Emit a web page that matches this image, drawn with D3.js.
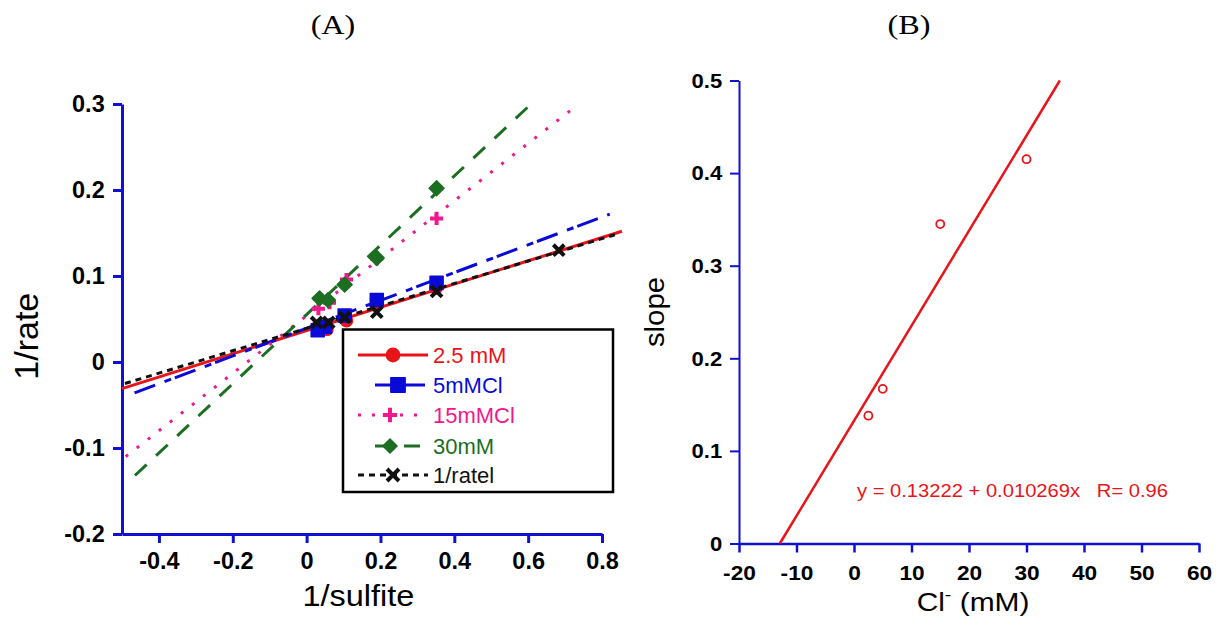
<!DOCTYPE html>
<html>
<head>
<meta charset="utf-8">
<script src="https://cdn.jsdelivr.net/npm/d3@7"></script>
<style>
body { margin: 0; background: #fff; }
svg { display: block; font-family: Arial, "Liberation Sans", sans-serif; }
</style>
</head>
<body>
<svg></svg>
<script>
// ---- panel A : 1/rate against 1/sulfite ----
let names = ["2.5 mM", "5mMCl", "15mMCl", "30mM", "1/ratel"]
let colors = ["#e8141a", "#0a0ad8", "#f0188c", "#1c6e22", "#111111"]

let x25 = [0.03, 0.055, 0.108, 0.19, 0.35]
let y25 = [0.041, 0.038, 0.048, 0.066, 0.086]
let x5 = [0.03, 0.05, 0.103, 0.19, 0.352]
let y5 = [0.037, 0.041, 0.054, 0.072, 0.092]
let x15 = [0.032, 0.062, 0.108, 0.19, 0.352]
let y15 = [0.062, 0.069, 0.096, 0.120, 0.167]
let x30 = [0.035, 0.058, 0.103, 0.19, 0.352]
let y30 = [0.074, 0.072, 0.090, 0.121, 0.202]
let xRate = [0.027, 0.06, 0.103, 0.19, 0.352, 0.683]
let yRate = [0.046, 0.046, 0.052, 0.058, 0.082, 0.130]

// fitted lines, end points
let fitX = [[-0.5, 0.854], [-0.466, 0.821], [-0.49, 0.737], [-0.465, 0.608], [-0.492, 0.835]]
let fitY = [[-0.031, 0.152], [-0.036, 0.172], [-0.110, 0.300], [-0.132, 0.300], [-0.025, 0.148]]

let aXTicks = [-0.4, -0.2, 0, 0.2, 0.4, 0.6, 0.8]
let aYTicks = [-0.2, -0.1, 0, 0.1, 0.2, 0.3]

// ---- panel B : slope against Cl- ----
let clConc = [2.5, 5, 15, 30]
let slopes = [0.138, 0.167, 0.345, 0.415]
let bFitX = [-12.9, 35.8]
let bFitY = [0, 0.5]
let bXTicks = [-20, -10, 0, 10, 20, 30, 40, 50, 60]
let bYTicks = [0, 0.1, 0.2, 0.3, 0.4, 0.5]

let width = 1227
let height = 622
let axisBlue = "#1010d0"

let svg = d3.select("svg").attr("width", width).attr("height", height)

let xA = d3.scaleLinear().domain([-0.5, 0.8]).range([122, 602])
let yA = d3.scaleLinear().domain([-0.2, 0.3]).range([534, 104])
let xB = d3.scaleLinear().domain([-20, 60]).range([739, 1199])
let yB = d3.scaleLinear().domain([0, 0.5]).range([543.5, 80.5])

// text in the picture is drawn a bit wider than normal
let label = (x, y, txt, size, opts = {}) => {
    let g = svg.append("g").attr("transform", "translate(" + x + "," + y + ")" + (opts.rotate ? " rotate(" + opts.rotate + ")" : ""))
    let t = g.append("text")
        .attr("text-anchor", opts.anchor || "middle")
        .attr("font-size", size)
        .attr("fill", opts.color || "#000")
        .attr("transform", "scale(" + (opts.sx || 1) + ",1)")
        .style("white-space", "pre")
    if (opts.family) t.attr("font-family", opts.family)
    t.text(txt)
    return t
}

let styleAxis = (g, sx) => {
    g.select(".domain").attr("stroke", axisBlue)
    g.selectAll(".tick line").attr("stroke", axisBlue)
    g.selectAll(".tick text").attr("fill", "#000").attr("font-weight", "bold")
        .attr("transform", "scale(" + sx + ",1)")
}

// custom marker shapes
let plusType = {draw: (ctx, size) => {
    let r = Math.sqrt(size) / 2
    ctx.moveTo(-r, 0); ctx.lineTo(r, 0); ctx.moveTo(0, -r); ctx.lineTo(0, r)
}}
let crossType = {draw: (ctx, size) => {
    let r = Math.sqrt(size) / 2
    ctx.moveTo(-r, -r); ctx.lineTo(r, r); ctx.moveTo(-r, r); ctx.lineTo(r, -r)
}}
let diamondType = {draw: (ctx, size) => {
    let r = Math.sqrt(size / 2)
    ctx.moveTo(0, -r); ctx.lineTo(r, 0); ctx.lineTo(0, r); ctx.lineTo(-r, 0); ctx.closePath()
}}

let markers = [
    {type: d3.symbolCircle, size: 115, filled: true},
    {type: d3.symbolSquare, size: 170, filled: true},
    {type: plusType, size: 170, filled: false},
    {type: diamondType, size: 110, filled: true},
    {type: crossType, size: 120, filled: false}
]
let dashes = [null, "22,10,7,4", "3,11", "16,13", "6,5"]
let widths = [3, 3, 3, 3, 3]

let drawMarker = (x, y, i, k = 1) => {
    let m = markers[i]
    let p = svg.append("path")
        .attr("d", d3.symbol().type(m.type).size(m.size * k)())
        .attr("transform", "translate(" + x + "," + y + ")")
    if (m.filled) p.attr("fill", colors[i]).attr("stroke", colors[i]).attr("stroke-width", 1.5).attr("stroke-linejoin", "round")
    else p.attr("fill", "none").attr("stroke", colors[i]).attr("stroke-width", 4)
}

let drawPanelA = () => {
    let xAxis = d3.axisBottom(xA).tickValues(aXTicks).tickFormat(d => String(d))
        .tickSize(9).tickSizeOuter(0).tickPadding(10)
    let yAxis = d3.axisLeft(yA).tickValues(aYTicks).tickFormat(d => String(d))
        .tickSize(9).tickSizeOuter(0).tickPadding(8)

    let gx = svg.append("g").attr("transform", "translate(0," + yA(-0.2) + ")").call(xAxis)
    gx.attr("font-size", 23).attr("font-family", null)
    gx.select(".domain").attr("stroke-width", 3)
    gx.selectAll(".tick line").attr("stroke-width", 3)
    styleAxis(gx, 1.02)

    let gy = svg.append("g").attr("transform", "translate(" + xA(-0.5) + ",0)").call(yAxis)
    gy.attr("font-size", 23).attr("font-family", null)
    gy.select(".domain").attr("stroke-width", 3)
    gy.selectAll(".tick line").attr("stroke-width", 3)
    styleAxis(gy, 1.02)

    // fitted lines
    let line = d3.line().x(d => xA(d[0])).y(d => yA(d[1]))
    fitX.forEach((fx, i) => {
        svg.append("path")
            .attr("d", line([[fx[0], fitY[i][0]], [fx[1], fitY[i][1]]]))
            .attr("fill", "none")
            .attr("stroke", colors[i])
            .attr("stroke-width", widths[i])
            .attr("stroke-dasharray", dashes[i])
    })

    // measured points
    let sets = [[x25, y25], [x5, y5], [x15, y15], [x30, y30], [xRate, yRate]]
    sets.forEach((s, i) => {
        s[0].forEach((v, j) => drawMarker(xA(v), yA(s[1][j]), i))
    })

    label(xA(0.14), 606, "1/sulfite", 29, {sx: 1.12})
    label(38, yA(0.03), "1/rate", 34, {rotate: -90})
    label(333, 34, "(A)", 28, {sx: 1.15, family: "'Liberation Serif', 'Times New Roman', serif"})

    // legend
    svg.append("rect").attr("x", 343).attr("y", 329.5).attr("width", 270).attr("height", 162.5)
        .attr("fill", "#fff").attr("stroke", "#000").attr("stroke-width", 2.5)
    let rowY = [355, 385, 415, 446, 475]
    let lineX = [[358, 428], [375, 425], [358, 428], [375, 425], [358, 428]]
    let markX = [393, 398, 390, 390, 393]
    names.forEach((n, i) => {
        svg.append("line")
            .attr("x1", lineX[i][0]).attr("x2", lineX[i][1])
            .attr("y1", rowY[i]).attr("y2", rowY[i])
            .attr("stroke", colors[i]).attr("stroke-width", widths[i])
            .attr("stroke-dasharray", i == 1 ? null : dashes[i])
        drawMarker(markX[i], rowY[i], i, i == 3 ? 0.9 : 1.2)
        svg.append("text").attr("x", 433).attr("y", rowY[i] + 8)
            .attr("font-size", 22).attr("fill", colors[i]).text(n)
    })
}

let drawPanelB = () => {
    let xAxis = d3.axisBottom(xB).tickValues(bXTicks).tickFormat(d => String(d))
        .tickSize(9).tickSizeOuter(0).tickPadding(13)
    let yAxis = d3.axisLeft(yB).tickValues(bYTicks).tickFormat(d => String(d))
        .tickSize(9).tickSizeOuter(0).tickPadding(7)

    let gx = svg.append("g").attr("transform", "translate(0," + yB(0) + ")").call(xAxis)
    gx.attr("font-size", 21).attr("font-family", null)
    gx.select(".domain").attr("stroke-width", 2.5)
    gx.selectAll(".tick line").attr("stroke-width", 2.5)
    styleAxis(gx, 1.08)

    let gy = svg.append("g").attr("transform", "translate(" + xB(-20) + ",0)").call(yAxis)
    gy.attr("font-size", 21).attr("font-family", null)
    gy.select(".domain").attr("stroke-width", 2)
    gy.selectAll(".tick line").attr("stroke-width", 2)
    styleAxis(gy, 1.05)

    svg.append("path")
        .attr("d", d3.line()([[xB(bFitX[0]), yB(bFitY[0])], [xB(bFitX[1]), yB(bFitY[1])]]))
        .attr("stroke", "#e8141a").attr("stroke-width", 2.5).attr("fill", "none")

    svg.selectAll("circle.pt")
        .data(clConc)
        .enter()
        .append("circle")
        .attr("class", "pt")
        .attr("cx", d => xB(d))
        .attr("cy", (d, i) => yB(slopes[i]))
        .attr("r", 4)
        .attr("fill", "none")
        .attr("stroke", "#e8141a")
        .attr("stroke-width", 1.8)

    label(857, 497, "y = 0.13222 + 0.010269x   R= 0.96", 18, {anchor: "start", sx: 1.12, color: "#e8141a"})

    let t = label(973, 611, "Cl", 26, {sx: 1.15})
    t.append("tspan").attr("dy", -11).attr("font-size", 17).text("-")
    t.append("tspan").attr("dy", 11).text(" (mM)")
    label(664, yB(0.25), "slope", 28, {rotate: -90, sx: 1.05})
    label(909, 34, "(B)", 28, {sx: 1.15, family: "'Liberation Serif', 'Times New Roman', serif"})
}

drawPanelA()
drawPanelB()
</script>
</body>
</html>
